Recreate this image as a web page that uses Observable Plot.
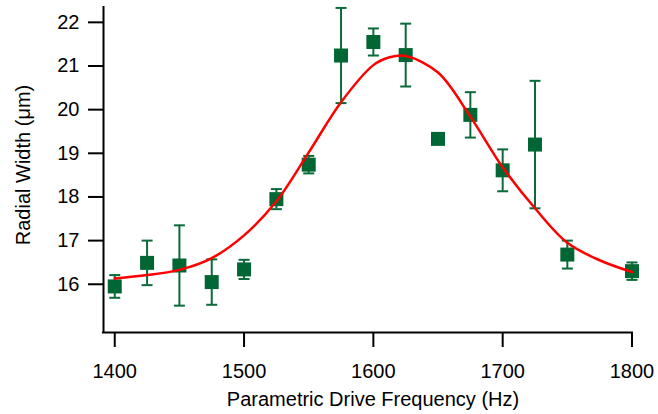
<!DOCTYPE html>
<html>
<head>
<meta charset="utf-8">
<script src="https://cdn.jsdelivr.net/npm/d3@7"></script>
<script src="https://cdn.jsdelivr.net/npm/@observablehq/plot@0.6"></script>
<style>
  html, body { margin: 0; padding: 0; background: #fff; }
  #chart { width: 658px; height: 414px; }
</style>
</head>
<body>
<div id="chart"></div>
<script>
// Measured points
const freq = [1400, 1425, 1450, 1475, 1500, 1525, 1550, 1575, 1600, 1625, 1650, 1675, 1700, 1725, 1750, 1800];
const radialWidth = [15.95, 16.49, 16.43, 16.05, 16.34, 17.95, 18.74, 21.24, 21.55, 21.25, 19.33, 19.88, 18.61, 19.20, 16.68, 16.30];
const errBar = [0.26, 0.51, 0.92, 0.52, 0.22, 0.23, 0.20, 1.09, 0.31, 0.72, 0.0, 0.52, 0.48, 1.46, 0.32, 0.20];

// Fit curve
const fitFreq = [1400, 1425, 1450, 1475, 1500, 1525, 1550, 1575, 1600, 1612.5, 1625, 1650, 1675, 1700, 1725, 1750, 1775, 1800];
const fitWidth = [16.13, 16.21, 16.33, 16.60, 17.12, 17.90, 19.02, 20.17, 21.02, 21.20, 21.23, 20.85, 19.84, 18.68, 17.74, 16.95, 16.55, 16.28];

// Axis ticks and titles
const xTicks = [1400, 1500, 1600, 1700, 1800];
const yTicks = [16, 17, 18, 19, 20, 21, 22];
const xTitle = "Parametric Drive Frequency (Hz)";
const yTitle = "Radial Width (μm)";

const xDomain = [1391.3, 1800.4];
const yDomain = [14.895, 22.34];

const points = freq.map((f, i) => ({f, w: radialWidth[i], e: errBar[i]}));
const bars = points.filter(d => d.e > 0);
const caps = bars.flatMap(d => [{f: d.f, y: d.w + d.e}, {f: d.f, y: d.w - d.e}]);
const fit = fitFreq.map((f, i) => ({f, w: fitWidth[i]}));

const green = "#006633";
const barGreen = "#0a6a3a";
const capSymbol = {
  draw(context) {
    context.moveTo(-5.5, 0);
    context.lineTo(5.5, 0);
  }
};

const chart = Plot.plot({
  width: 658,
  height: 414,
  marginLeft: 103,
  marginRight: 26,
  marginTop: 7,
  marginBottom: 82,
  style: {fontFamily: "'Liberation Sans', Arial, sans-serif", fontSize: "20px", color: "black", background: "white"},
  x: {domain: xDomain},
  y: {domain: yDomain},
  marks: [
    Plot.ruleY([yDomain[0]], {stroke: "black", strokeWidth: 2, strokeLinecap: "square"}),
    Plot.ruleX([xDomain[0]], {stroke: "black", strokeWidth: 2, strokeLinecap: "square"}),
    Plot.axisX({ticks: xTicks, tickSize: 15, tickPadding: 16, fontSize: 20, strokeWidth: 2, stroke: "black", label: null, tickFormat: d => String(d)}),
    Plot.axisY({ticks: yTicks, tickSize: 15, tickPadding: 9, fontSize: 20, strokeWidth: 2, stroke: "black", label: null, tickFormat: d => String(d)}),
    Plot.ruleX(bars, {x: "f", y1: d => d.w - d.e, y2: d => d.w + d.e, stroke: barGreen, strokeWidth: 2}),
    Plot.dot(caps, {x: "f", y: "y", symbol: capSymbol, r: 5, stroke: barGreen, fill: "none", strokeWidth: 2}),
    Plot.dot(points, {x: "f", y: "w", symbol: "square", r: 7.9, fill: green, stroke: "none"}),
    Plot.line(fit, {x: "f", y: "w", stroke: "#ff0000", strokeWidth: 2.5, curve: "catmull-rom"}),
    Plot.text([xTitle], {frameAnchor: "bottom", lineAnchor: "bottom", textAnchor: "middle", dy: 73, dx: 5, fontSize: 20, fill: "black"}),
    Plot.text([yTitle], {frameAnchor: "left", rotate: -90, textAnchor: "middle", lineAnchor: "middle", dx: -80, dy: -5, fontSize: 20, fill: "black"})
  ]
});

document.getElementById("chart").appendChild(chart);
</script>
</body>
</html>
